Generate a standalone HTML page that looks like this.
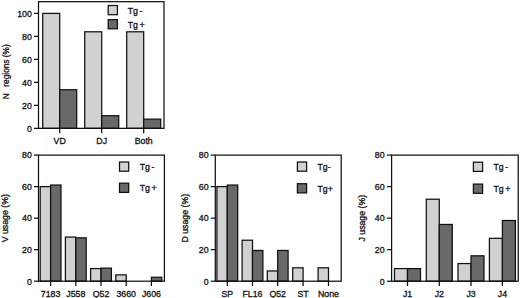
<!DOCTYPE html>
<html><head><meta charset="utf-8"><title>chart</title>
<style>html,body{margin:0;padding:0;background:#fff;overflow:hidden}body{width:520px;height:298px;position:relative;font-family:"Liberation Sans",sans-serif}svg,svg text{font-family:"Liberation Sans",sans-serif}svg text{stroke:#111;stroke-width:0.3px;paint-order:stroke fill}</style>
</head><body>
<svg width="520" height="298" viewBox="0 0 520 298" style="display:block;position:absolute;left:0;top:0" font-size="8.75" fill="#111">
<rect width="520" height="298" fill="#fff"/>
<rect x="42.70" y="13.40" width="17.00" height="114.95" fill="#d1d1d1" stroke="#111" stroke-width="1.25"/>
<rect x="59.70" y="89.73" width="17.00" height="38.62" fill="#696969" stroke="#111" stroke-width="1.25"/>
<rect x="84.70" y="31.79" width="17.00" height="96.56" fill="#d1d1d1" stroke="#111" stroke-width="1.25"/>
<rect x="101.70" y="115.71" width="17.00" height="12.64" fill="#696969" stroke="#111" stroke-width="1.25"/>
<rect x="126.70" y="31.79" width="17.00" height="96.56" fill="#d1d1d1" stroke="#111" stroke-width="1.25"/>
<rect x="143.70" y="119.15" width="17.00" height="9.20" fill="#696969" stroke="#111" stroke-width="1.25"/>
<rect x="38.50" y="1.70" width="125.50" height="126.65" fill="none" stroke="#111" stroke-width="1.25"/>
<line x1="34.00" y1="128.35" x2="38.50" y2="128.35" stroke="#111" stroke-width="1.25"/>
<text x="31.80" y="131.65" text-anchor="end">0</text>
<line x1="34.00" y1="105.36" x2="38.50" y2="105.36" stroke="#111" stroke-width="1.25"/>
<text x="31.80" y="108.66" text-anchor="end">20</text>
<line x1="34.00" y1="82.37" x2="38.50" y2="82.37" stroke="#111" stroke-width="1.25"/>
<text x="31.80" y="85.67" text-anchor="end">40</text>
<line x1="34.00" y1="59.38" x2="38.50" y2="59.38" stroke="#111" stroke-width="1.25"/>
<text x="31.80" y="62.68" text-anchor="end">60</text>
<line x1="34.00" y1="36.39" x2="38.50" y2="36.39" stroke="#111" stroke-width="1.25"/>
<text x="31.80" y="39.69" text-anchor="end">80</text>
<line x1="34.00" y1="13.40" x2="38.50" y2="13.40" stroke="#111" stroke-width="1.25"/>
<text x="31.80" y="16.70" text-anchor="end">100</text>
<line x1="59.70" y1="128.35" x2="59.70" y2="133.15" stroke="#111" stroke-width="1.25"/>
<text x="59.70" y="144.00" text-anchor="middle">VD</text>
<line x1="101.70" y1="128.35" x2="101.70" y2="133.15" stroke="#111" stroke-width="1.25"/>
<text x="101.70" y="144.00" text-anchor="middle">DJ</text>
<line x1="143.70" y1="128.35" x2="143.70" y2="133.15" stroke="#111" stroke-width="1.25"/>
<text x="143.70" y="144.00" text-anchor="middle">Both</text>
<text transform="translate(8.50,99.20) rotate(-90)" text-anchor="start" font-size="8.3">N</text>
<text transform="translate(8.50,86.70) rotate(-90)" font-size="8.3">regions (%)</text>
<rect x="108.20" y="5.50" width="9.2" height="9.2" fill="#d1d1d1" stroke="#111" stroke-width="1.25"/>
<rect x="108.20" y="19.60" width="9.2" height="9.2" fill="#696969" stroke="#111" stroke-width="1.25"/>
<text x="127.70" y="13.50" word-spacing="-0.9">Tg -</text>
<text x="127.70" y="27.60" word-spacing="-0.9">Tg +</text>
<rect x="40.20" y="186.62" width="10.40" height="94.57" fill="#d1d1d1" stroke="#111" stroke-width="1.25"/>
<rect x="50.60" y="185.05" width="10.40" height="96.15" fill="#696969" stroke="#111" stroke-width="1.25"/>
<rect x="65.40" y="237.06" width="10.40" height="44.13" fill="#d1d1d1" stroke="#111" stroke-width="1.25"/>
<rect x="75.80" y="237.85" width="10.40" height="43.35" fill="#696969" stroke="#111" stroke-width="1.25"/>
<rect x="90.60" y="268.59" width="10.40" height="12.61" fill="#d1d1d1" stroke="#111" stroke-width="1.25"/>
<rect x="101.00" y="268.12" width="10.40" height="13.08" fill="#696969" stroke="#111" stroke-width="1.25"/>
<rect x="115.80" y="274.89" width="10.40" height="6.30" fill="#d1d1d1" stroke="#111" stroke-width="1.25"/>
<rect x="151.40" y="277.26" width="10.40" height="3.94" fill="#696969" stroke="#111" stroke-width="1.25"/>
<rect x="38.50" y="155.10" width="125.90" height="126.10" fill="none" stroke="#111" stroke-width="1.25"/>
<line x1="34.00" y1="281.20" x2="38.50" y2="281.20" stroke="#111" stroke-width="1.25"/>
<text x="31.80" y="284.50" text-anchor="end">0</text>
<line x1="34.00" y1="249.67" x2="38.50" y2="249.67" stroke="#111" stroke-width="1.25"/>
<text x="31.80" y="252.97" text-anchor="end">20</text>
<line x1="34.00" y1="218.15" x2="38.50" y2="218.15" stroke="#111" stroke-width="1.25"/>
<text x="31.80" y="221.45" text-anchor="end">40</text>
<line x1="34.00" y1="186.62" x2="38.50" y2="186.62" stroke="#111" stroke-width="1.25"/>
<text x="31.80" y="189.93" text-anchor="end">60</text>
<line x1="34.00" y1="155.10" x2="38.50" y2="155.10" stroke="#111" stroke-width="1.25"/>
<text x="31.80" y="158.40" text-anchor="end">80</text>
<line x1="50.60" y1="281.20" x2="50.60" y2="286.00" stroke="#111" stroke-width="1.25"/>
<text x="50.60" y="296.70" text-anchor="middle">7183</text>
<line x1="75.80" y1="281.20" x2="75.80" y2="286.00" stroke="#111" stroke-width="1.25"/>
<text x="75.80" y="296.70" text-anchor="middle">J558</text>
<line x1="101.00" y1="281.20" x2="101.00" y2="286.00" stroke="#111" stroke-width="1.25"/>
<text x="101.00" y="296.70" text-anchor="middle">Q52</text>
<line x1="126.20" y1="281.20" x2="126.20" y2="286.00" stroke="#111" stroke-width="1.25"/>
<text x="126.20" y="296.70" text-anchor="middle">3660</text>
<line x1="151.40" y1="281.20" x2="151.40" y2="286.00" stroke="#111" stroke-width="1.25"/>
<text x="151.40" y="296.70" text-anchor="middle">J606</text>
<text transform="translate(8.40,218.20) rotate(-90)" text-anchor="middle">V usage (%)</text>
<rect x="119.50" y="162.00" width="9.2" height="9.2" fill="#d1d1d1" stroke="#111" stroke-width="1.25"/>
<rect x="119.50" y="183.20" width="9.2" height="9.2" fill="#696969" stroke="#111" stroke-width="1.25"/>
<text x="139.70" y="169.80" word-spacing="-0.9">Tg -</text>
<text x="139.70" y="191.00" word-spacing="-0.9">Tg +</text>
<rect x="216.90" y="186.62" width="10.40" height="94.57" fill="#d1d1d1" stroke="#111" stroke-width="1.25"/>
<rect x="227.30" y="185.05" width="10.40" height="96.15" fill="#696969" stroke="#111" stroke-width="1.25"/>
<rect x="242.10" y="240.22" width="10.40" height="40.98" fill="#d1d1d1" stroke="#111" stroke-width="1.25"/>
<rect x="252.50" y="250.46" width="10.40" height="30.74" fill="#696969" stroke="#111" stroke-width="1.25"/>
<rect x="267.30" y="270.95" width="10.40" height="10.25" fill="#d1d1d1" stroke="#111" stroke-width="1.25"/>
<rect x="277.70" y="250.46" width="10.40" height="30.74" fill="#696969" stroke="#111" stroke-width="1.25"/>
<rect x="292.70" y="267.80" width="10.40" height="13.40" fill="#d1d1d1" stroke="#111" stroke-width="1.25"/>
<rect x="318.10" y="267.80" width="10.40" height="13.40" fill="#d1d1d1" stroke="#111" stroke-width="1.25"/>
<rect x="215.30" y="155.10" width="125.90" height="126.10" fill="none" stroke="#111" stroke-width="1.25"/>
<line x1="210.80" y1="281.20" x2="215.30" y2="281.20" stroke="#111" stroke-width="1.25"/>
<text x="208.60" y="284.50" text-anchor="end">0</text>
<line x1="210.80" y1="249.67" x2="215.30" y2="249.67" stroke="#111" stroke-width="1.25"/>
<text x="208.60" y="252.97" text-anchor="end">20</text>
<line x1="210.80" y1="218.15" x2="215.30" y2="218.15" stroke="#111" stroke-width="1.25"/>
<text x="208.60" y="221.45" text-anchor="end">40</text>
<line x1="210.80" y1="186.62" x2="215.30" y2="186.62" stroke="#111" stroke-width="1.25"/>
<text x="208.60" y="189.93" text-anchor="end">60</text>
<line x1="210.80" y1="155.10" x2="215.30" y2="155.10" stroke="#111" stroke-width="1.25"/>
<text x="208.60" y="158.40" text-anchor="end">80</text>
<line x1="227.30" y1="281.20" x2="227.30" y2="286.00" stroke="#111" stroke-width="1.25"/>
<text x="227.30" y="296.70" text-anchor="middle">SP</text>
<line x1="252.50" y1="281.20" x2="252.50" y2="286.00" stroke="#111" stroke-width="1.25"/>
<text x="252.50" y="296.70" text-anchor="middle">FL16</text>
<line x1="277.70" y1="281.20" x2="277.70" y2="286.00" stroke="#111" stroke-width="1.25"/>
<text x="277.70" y="296.70" text-anchor="middle">Q52</text>
<line x1="303.10" y1="281.20" x2="303.10" y2="286.00" stroke="#111" stroke-width="1.25"/>
<text x="303.10" y="296.70" text-anchor="middle">ST</text>
<line x1="328.50" y1="281.20" x2="328.50" y2="286.00" stroke="#111" stroke-width="1.25"/>
<text x="328.50" y="296.70" text-anchor="middle">None</text>
<text transform="translate(188.00,218.20) rotate(-90)" text-anchor="middle">D usage (%)</text>
<rect x="297.40" y="162.00" width="9.2" height="9.2" fill="#d1d1d1" stroke="#111" stroke-width="1.25"/>
<rect x="297.40" y="183.70" width="9.2" height="9.2" fill="#696969" stroke="#111" stroke-width="1.25"/>
<text x="317.50" y="169.80" word-spacing="-0.9">Tg-</text>
<text x="317.50" y="191.80" word-spacing="-0.9">Tg+</text>
<rect x="394.50" y="268.59" width="13.00" height="12.61" fill="#d1d1d1" stroke="#111" stroke-width="1.25"/>
<rect x="407.50" y="268.59" width="13.00" height="12.61" fill="#696969" stroke="#111" stroke-width="1.25"/>
<rect x="426.30" y="199.23" width="13.00" height="81.97" fill="#d1d1d1" stroke="#111" stroke-width="1.25"/>
<rect x="439.30" y="224.45" width="13.00" height="56.74" fill="#696969" stroke="#111" stroke-width="1.25"/>
<rect x="458.00" y="263.55" width="13.00" height="17.65" fill="#d1d1d1" stroke="#111" stroke-width="1.25"/>
<rect x="471.00" y="255.82" width="13.00" height="25.38" fill="#696969" stroke="#111" stroke-width="1.25"/>
<rect x="489.40" y="238.33" width="13.00" height="42.87" fill="#d1d1d1" stroke="#111" stroke-width="1.25"/>
<rect x="502.40" y="220.51" width="13.00" height="60.69" fill="#696969" stroke="#111" stroke-width="1.25"/>
<rect x="391.60" y="155.10" width="126.60" height="126.10" fill="none" stroke="#111" stroke-width="1.25"/>
<line x1="387.10" y1="281.20" x2="391.60" y2="281.20" stroke="#111" stroke-width="1.25"/>
<text x="384.60" y="284.50" text-anchor="end">0</text>
<line x1="387.10" y1="249.67" x2="391.60" y2="249.67" stroke="#111" stroke-width="1.25"/>
<text x="384.60" y="252.97" text-anchor="end">20</text>
<line x1="387.10" y1="218.15" x2="391.60" y2="218.15" stroke="#111" stroke-width="1.25"/>
<text x="384.60" y="221.45" text-anchor="end">40</text>
<line x1="387.10" y1="186.62" x2="391.60" y2="186.62" stroke="#111" stroke-width="1.25"/>
<text x="384.60" y="189.93" text-anchor="end">60</text>
<line x1="387.10" y1="155.10" x2="391.60" y2="155.10" stroke="#111" stroke-width="1.25"/>
<text x="384.60" y="158.40" text-anchor="end">80</text>
<line x1="407.50" y1="281.20" x2="407.50" y2="286.00" stroke="#111" stroke-width="1.25"/>
<text x="407.50" y="296.70" text-anchor="middle">J1</text>
<line x1="439.30" y1="281.20" x2="439.30" y2="286.00" stroke="#111" stroke-width="1.25"/>
<text x="439.30" y="296.70" text-anchor="middle">J2</text>
<line x1="471.00" y1="281.20" x2="471.00" y2="286.00" stroke="#111" stroke-width="1.25"/>
<text x="471.00" y="296.70" text-anchor="middle">J3</text>
<line x1="502.40" y1="281.20" x2="502.40" y2="286.00" stroke="#111" stroke-width="1.25"/>
<text x="502.40" y="296.70" text-anchor="middle">J4</text>
<text transform="translate(364.60,218.20) rotate(-90)" text-anchor="middle">J usage (%)</text>
<rect x="473.40" y="162.20" width="9.2" height="9.2" fill="#d1d1d1" stroke="#111" stroke-width="1.25"/>
<rect x="473.40" y="184.10" width="9.2" height="9.2" fill="#696969" stroke="#111" stroke-width="1.25"/>
<text x="493.50" y="169.90" word-spacing="-0.9">Tg -</text>
<text x="493.50" y="191.70" word-spacing="-0.9">Tg +</text>
</svg>
</body></html>
